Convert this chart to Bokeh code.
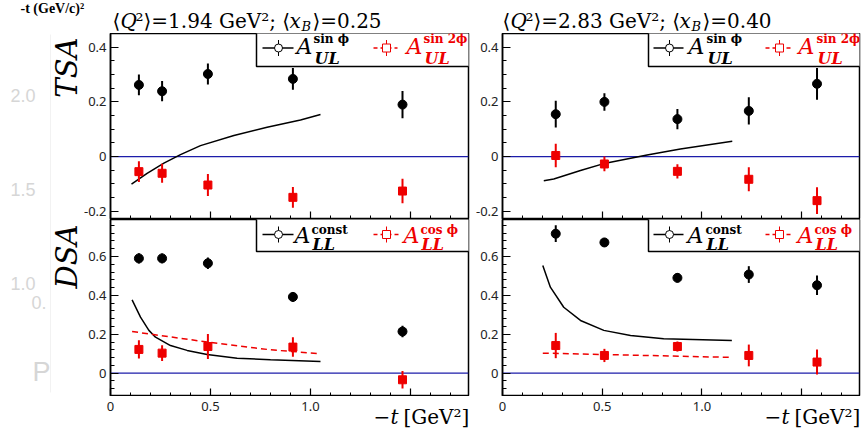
import math
from bokeh.plotting import figure
from bokeh.models import Label, Span, FixedTicker, CustomJSTickFormatter, Range1d
from bokeh.layouts import column, row
from bokeh.embed import file_html
from bokeh.resources import INLINE

# ---------------- data ----------------
# panel 1: <Q2>=1.94 GeV2, <xB>=0.25
t_L = [0.142, 0.258, 0.487, 0.912, 1.46]
tsa_sin_L = [0.262, 0.239, 0.302, 0.284, 0.190]
tsa_sin_L_err = [0.038, 0.037, 0.038, 0.040, 0.050]
tsa_sin2_L = [-0.055, -0.061, -0.104, -0.149, -0.126]
tsa_sin2_L_err = [0.038, 0.035, 0.040, 0.038, 0.045]
dsa_const_L = [0.590, 0.590, 0.565, 0.392, 0.214]
dsa_const_L_err = [0.026, 0.025, 0.030, 0.025, 0.030]
dsa_cos_L = [0.122, 0.103, 0.137, 0.134, -0.034]
dsa_cos_L_err = [0.047, 0.041, 0.064, 0.050, 0.045]

tsa_model_t_L = [0.105, 0.183, 0.267, 0.35, 0.45, 0.617, 0.783, 0.95, 1.05]
tsa_model_L = [-0.101, -0.061, -0.024, 0.007, 0.040, 0.077, 0.107, 0.134, 0.154]
dsa_model_t_L = [0.108, 0.15, 0.192, 0.225, 0.30, 0.383, 0.483, 0.633, 0.80, 1.05]
dsa_const_model_L = [0.377, 0.288, 0.220, 0.185, 0.142, 0.117, 0.096, 0.077, 0.069, 0.060]
dsa_cos_model_t_L = [0.108, 0.483, 0.80, 1.05]
dsa_cos_model_L = [0.214, 0.160, 0.120, 0.100]

# panel 2: <Q2>=2.83 GeV2, <xB>=0.40
t_R = [0.267, 0.511, 0.877, 1.235, 1.577]
tsa_sin_R = [0.155, 0.200, 0.137, 0.167, 0.266]
tsa_sin_R_err = [0.049, 0.032, 0.037, 0.050, 0.058]
tsa_sin2_R = [0.004, -0.027, -0.054, -0.083, -0.161]
tsa_sin2_R_err = [0.043, 0.027, 0.026, 0.044, 0.049]
dsa_const_R = [0.717, 0.672, 0.490, 0.507, 0.452]
dsa_const_R_err = [0.043, 0.021, 0.024, 0.043, 0.050]
dsa_cos_R = [0.142, 0.091, 0.137, 0.091, 0.057]
dsa_cos_R_err = [0.065, 0.034, 0.026, 0.056, 0.064]

tsa_model_t_R = [0.207, 0.257, 0.391, 0.516, 0.725, 0.892, 1.152]
tsa_model_R = [-0.088, -0.082, -0.051, -0.024, 0.006, 0.028, 0.056]
dsa_model_t_R = [0.202, 0.24, 0.307, 0.391, 0.508, 0.642, 0.808, 1.15]
dsa_const_model_R = [0.554, 0.442, 0.339, 0.271, 0.220, 0.194, 0.177, 0.168]
dsa_cos_model_t_R = [0.202, 1.15]
dsa_cos_model_R = [0.103, 0.081]

titles = [("1.94", "0.25"), ("2.83", "0.40")]
x_ticks = [0, 0.5, 1.0, 1.5]
x_tick_labels = ["0", "0.5", "1.0", ""]

X_RANGE = (0.0, 1.79)
TOP_Y = (-0.23, 0.45)
BOT_Y = (-0.12, 0.79)

SERIF = "DejaVu Serif"
SANS = "Noto Sans"
RED = "#ee0000"
BLUE = "#1c1caa"


class Panel:
    """page-pixel -> data conversion for one drawing frame"""
    def __init__(self, fl, fw, ft, fh, yr, xr=X_RANGE):
        self.fl, self.fw, self.ft, self.fh, self.yr, self.xr = fl, fw, ft, fh, yr, xr

    def dx(self, px):
        return self.xr[0] + (px - self.fl) / self.fw * (self.xr[1] - self.xr[0])

    def dy(self, py):
        return self.yr[1] - (py - self.ft) / self.fh * (self.yr[1] - self.yr[0])


def make_fig(width, height, yr, left, right, is_top):
    p = figure(width=width, height=height, x_range=Range1d(*X_RANGE), y_range=Range1d(*yr),
               output_backend="svg", toolbar_location=None, title=None,
               min_border_left=left, min_border_right=right,
               min_border_top=0, min_border_bottom=0)
    p.grid.visible = False
    p.outline_line_color = "black"
    p.outline_line_width = 1.5
    p.background_fill_color = "white"
    p.border_fill_color = "white"
    for ax in (p.xaxis[0], p.yaxis[0]):
        ax.major_tick_in = 8
        ax.major_tick_out = 0
        ax.minor_tick_in = 4
        ax.minor_tick_out = 0
        ax.axis_line_width = 1.5
        ax.major_tick_line_width = 1.2
        ax.minor_tick_line_width = 1.0
        ax.major_label_text_font = SANS
        ax.major_label_text_font_size = "13px"
        ax.major_label_text_color = "#222222"
    p.xaxis.ticker = FixedTicker(ticks=x_ticks,
                                 minor_ticks=[round(0.1 * i, 2) for i in range(0, 18)])
    # x tick labels are written in the strip below the panels
    p.xaxis.major_label_text_font_size = "0px"
    p.xaxis.major_label_text_color = None
    p.xaxis.major_label_standoff = 0
    if is_top:
        p.yaxis.ticker = FixedTicker(ticks=[-0.2, 0, 0.2, 0.4],
                                     minor_ticks=[round(-0.2 + 0.05 * i, 3) for i in range(0, 14)])
    else:
        p.yaxis.ticker = FixedTicker(ticks=[0, 0.2, 0.4, 0.6],
                                     minor_ticks=[round(-0.08 + 0.04 * i, 3) for i in range(0, 22)])
    p.yaxis.formatter = CustomJSTickFormatter(code="return tick==0 ? '0' : tick.toFixed(1);")
    p.yaxis.major_label_standoff = 4
    p.add_layout(Span(location=0, dimension="width", line_color=BLUE, line_width=1.3, level="underlay"))
    return p


def make_strip(width, height, xr, yr):
    p = figure(frame_width=width, frame_height=height, x_range=Range1d(*xr), y_range=Range1d(*yr),
               output_backend="svg", toolbar_location=None, title=None,
               x_axis_location=None, y_axis_location=None, min_border=0,
               min_border_left=0, min_border_right=0, min_border_top=0, min_border_bottom=0)
    p.grid.visible = False
    p.outline_line_color = None
    p.background_fill_color = "white"
    p.border_fill_color = "white"
    return p


def txt(p, pan, px, py, text, size, color="black", style="normal", font=SERIF,
        align="left", baseline="alphabetic", angle=0.0):
    # the renderer sets alphabetic text slightly low; lift it by about its descent
    if baseline == "alphabetic":
        py = py - 0.23 * size
    p.add_layout(Label(x=pan.dx(px), y=pan.dy(py), text=text, text_font=font,
                       text_font_size=f"{size}px", text_color=color, text_font_style=style,
                       text_align=align, text_baseline=baseline, angle=angle))


def points(p, t, v, e, marker, color, size):
    p.segment(x0=t, y0=[a - b for a, b in zip(v, e)], x1=t, y1=[a + b for a, b in zip(v, e)],
              line_color=color, line_width=2)
    p.scatter(t, v, marker=marker, size=size, color=color)


def legend(p, pan, box_left, box_bottom, ysym, entries):
    p.quad(left=pan.dx(box_left), right=pan.xr[1] + 0.1, top=pan.yr[1] + 0.1, bottom=pan.dy(box_bottom),
           fill_color="white", line_color="black", line_width=1.5)
    for (lx0, lx1, sx, marker, color, dash, ax, supx, sup, sub, bA, bSup, bSub) in entries:
        p.line([pan.dx(lx0), pan.dx(lx1)], [pan.dy(ysym), pan.dy(ysym)], line_color=color,
               line_width=1.5, line_dash=dash)
        p.segment(x0=[pan.dx(sx)], y0=[pan.dy(ysym - 8)], x1=[pan.dx(sx)], y1=[pan.dy(ysym + 8)],
                  line_color=color, line_width=1)
        p.scatter([pan.dx(sx)], [pan.dy(ysym)], marker=marker, size=8, fill_color="white",
                  line_color=color, line_width=1)
        txt(p, pan, ax, bA, "A", 22, color=color, style="italic")
        txt(p, pan, supx, bSup, sup, 12, color=color, style="bold")
        txt(p, pan, supx + 1, bSub, sub, 16, color=color, style="bold italic")


# ---------------- geometry (page pixels) ----------------
TL = Panel(110, 358, 33, 186, TOP_Y)
TR = Panel(502, 357, 33, 186, TOP_Y)
BL = Panel(110, 358, 219, 177, BOT_Y)
BR = Panel(502, 357, 219, 177, BOT_Y)

p_tl = make_fig(390, 186, TOP_Y, 30, 2, True)
p_tr = make_fig(396, 186, TOP_Y, 32, 7, True)
p_bl = make_fig(390, 177, BOT_Y, 30, 2, False)
p_br = make_fig(396, 177, BOT_Y, 32, 7, False)

# strips for the text that lies outside the frames
title_strip = make_strip(866, 33, (0, 866), (0, 33))
TS = Panel(0, 866, 0, 33, (0, 33), (0, 866))
left_strip = make_strip(80, 396, (0, 80), (0, 396))
LS = Panel(0, 80, 33, 396, (0, 396), (0, 80))
xstrip_l = make_strip(390, 33, (TL.dx(80), TL.dx(470)), (0, 33))
xstrip_r = make_strip(396, 33, (TR.dx(470), TR.dx(866)), (0, 33))
XL = Panel(110, 358, 396, 33, (0, 33))
XR = Panel(502, 357, 396, 33, (0, 33))

# model curves
p_tl.line(tsa_model_t_L, tsa_model_L, line_color="black", line_width=1.5)
p_tr.line(tsa_model_t_R, tsa_model_R, line_color="black", line_width=1.5)
p_bl.line(dsa_model_t_L, dsa_const_model_L, line_color="black", line_width=1.5)
p_bl.line(dsa_cos_model_t_L, dsa_cos_model_L, line_color=RED, line_width=1.5, line_dash="6 4")
p_br.line(dsa_model_t_R, dsa_const_model_R, line_color="black", line_width=1.5)
p_br.line(dsa_cos_model_t_R, dsa_cos_model_R, line_color=RED, line_width=1.5, line_dash="6 4")

# data points
points(p_tl, t_L, tsa_sin_L, tsa_sin_L_err, "circle", "black", 9)
points(p_tl, t_L, tsa_sin2_L, tsa_sin2_L_err, "square", RED, 8)
points(p_tr, t_R, tsa_sin_R, tsa_sin_R_err, "circle", "black", 9)
points(p_tr, t_R, tsa_sin2_R, tsa_sin2_R_err, "square", RED, 8)
points(p_bl, t_L, dsa_const_L, dsa_const_L_err, "circle", "black", 9)
points(p_bl, t_L, dsa_cos_L, dsa_cos_L_err, "square", RED, 8)
points(p_br, t_R, dsa_const_R, dsa_const_R_err, "circle", "black", 9)
points(p_br, t_R, dsa_cos_R, dsa_cos_R_err, "square", RED, 8)

# legends
legend(p_tl, TL, 256, 66, 47.5, [
    (262, 293, 278, "circle", "black", "solid", 296, 313, "sin ϕ", "UL", 51, 41, 62),
    (373, 397, 386, "square", RED, "4 3", 406, 423, "sin 2ϕ", "UL", 51, 41, 62)])
legend(p_tr, TR, 648, 66, 47.5, [
    (653, 683, 669, "circle", "black", "solid", 688, 706, "sin ϕ", "UL", 51, 41, 62),
    (765, 792, 779, "square", RED, "4 3", 798, 816, "sin 2ϕ", "UL", 51, 41, 62)])
legend(p_bl, BL, 256, 251, 234, [
    (262, 293, 278, "circle", "black", "solid", 294, 311, "const", "LL", 240, 232, 248),
    (373, 398, 386, "square", RED, "4 3", 403, 420, "cos ϕ", "LL", 240, 232, 248)])
legend(p_br, BR, 648, 251, 234, [
    (653, 683, 669, "circle", "black", "solid", 687, 705, "const", "LL", 240, 232, 248),
    (765, 792, 779, "square", RED, "4 3", 797, 814, "cos ϕ", "LL", 240, 232, 248)])

# titles
for (q2, xb), shift in ((titles[0], 0), (titles[1], 390)):
    txt(title_strip, TS, 112 + shift, 25, "⟨", 20)
    txt(title_strip, TS, 120 + shift, 25, "Q", 20, style="italic")
    txt(title_strip, TS, 135 + shift, 25, f"²⟩={q2} GeV²; ⟨", 20)
    txt(title_strip, TS, 289 + shift, 25, "x", 20, style="italic")
    txt(title_strip, TS, 301 + shift, 29, "B", 13, style="italic")
    txt(title_strip, TS, 312 + shift, 25, f"⟩={xb}", 20)
txt(title_strip, TS, 20, 11, "-t (GeV/c)²", 14, style="bold", font="Liberation Serif")

# y-axis titles and faint remnants on the left
txt(left_strip, LS, 66, 37, "TSA", 29, style="italic", align="right", baseline="middle", angle=math.pi / 2)
txt(left_strip, LS, 66, 224, "DSA", 29, style="italic", align="right", baseline="middle", angle=math.pi / 2)
left_strip.line([LS.dx(50), LS.dx(50)], [LS.dy(34), LS.dy(392)], line_color="#f2f2f2", line_width=1)
GREY = "#d6d6d6"
txt(left_strip, LS, 10, 95, "2.0", 18, color=GREY, font="Liberation Sans", baseline="middle")
txt(left_strip, LS, 10, 189, "1.5", 18, color=GREY, font="Liberation Sans", baseline="middle")
txt(left_strip, LS, 10, 283, "1.0", 18, color=GREY, font="Liberation Sans", baseline="middle")
txt(left_strip, LS, 31, 302, "0.", 18, color=GREY, font="Liberation Sans", baseline="middle")
txt(left_strip, LS, 32, 371, "P", 27, color=GREY, font="Liberation Sans", baseline="middle")

# x tick labels and x-axis titles
for strip, pan, shift in ((xstrip_l, XL, 0), (xstrip_r, XR, 391)):
    for tv, tl in zip(x_ticks, x_tick_labels):
        if tl:
            strip.add_layout(Label(x=tv, y=pan.dy(406), text=tl, text_font=SANS,
                                   text_font_size="13px", text_color="#222222",
                                   text_align="center", text_baseline="middle"))
    txt(strip, pan, 373 + shift, 421, "−", 20)
    txt(strip, pan, 390 + shift, 421, "t", 20, style="italic")
    txt(strip, pan, 403 + shift, 421, "[GeV²]", 20)

layout = column(
    title_strip,
    row(left_strip,
        column(row(p_tl, p_tr), row(p_bl, p_br), row(xstrip_l, xstrip_r))))

with open("out.html", "w") as f:
    f.write(file_html(layout, INLINE))
